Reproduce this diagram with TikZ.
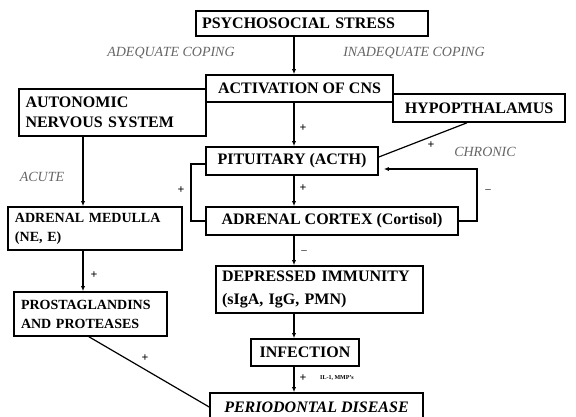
\documentclass[tikz,border=0pt]{standalone}
\usepackage{fontspec}
\setmainfont{Liberation Serif}
\usetikzlibrary{arrows.meta}
\begin{document}
\begin{tikzpicture}[x=1pt,y=-1pt,
  box/.style 2 args={draw,line width=1.6pt,inner sep=0pt,minimum width=#1,minimum height=#2,
     font=\fontsize{16}{20}\selectfont\bfseries},
  small/.style={font=\fontsize{14}{19}\selectfont\bfseries},
  lbl/.style={font=\fontsize{14}{16}\selectfont\itshape,text=black!60},
  sgn/.style={font=\fontsize{12}{12}\selectfont\bfseries,inner sep=0pt},
  neg/.style={font=\fontsize{11}{12}\selectfont,inner sep=0pt},
  arr/.style={line width=1.2pt,-{Latex[length=5pt,width=4pt]}},
  ln/.style={line width=1.2pt}]
\useasboundingbox (0,0) rectangle (576,416);
\fill[white] (0,0) rectangle (576,416);
\clip (0,0) rectangle (576,416);

% boxes
\node[box={232pt}{25pt},text width=220pt,align=left] (psy) at (312,23.5) {PSYCHOSOCIAL STRESS};
\node[box={187pt}{27pt}] (act) at (299.5,88.5) {ACTIVATION OF CNS};
\node[box={187pt}{47pt},text width=174pt,align=left] (ans) at (112.5,112.5) {AUTONOMIC\\NERVOUS SYSTEM};
\node[box={172pt}{28pt}] (hyp) at (479,108) {HYPOPTHALAMUS};
\node[box={172pt}{28pt}] (pit) at (292,161) {PITUITARY (ACTH)};
\node[box={252pt}{28pt}] (ctx) at (332,221) {ADRENAL CORTEX (Cortisol)};
\node[box={174pt}{43pt},small,text width=160pt,align=left] (med) at (95,228.5) {ADRENAL MEDULLA\\(NE, E)};
\node[box={153pt}{44pt},small,text width=139pt,align=left] (pro) at (90.5,314) {PROSTAGLANDINS\\AND PROTEASES};
\node[box={207pt}{47pt},font=\fontsize{16}{23}\selectfont\bfseries,text width=195pt,align=left] (dep) at (319.5,289.5) {DEPRESSED IMMUNITY\\(sIgA, IgG, PMN)};
\node[box={108pt}{27pt}] (inf) at (305,352.5) {INFECTION};
\node[box={213pt}{28pt},font=\fontsize{16}{20}\selectfont\bfseries\itshape] (per) at (316.5,407) {PERIODONTAL DISEASE};

% helper coordinates
\coordinate (c) at (294,0);
\coordinate (l) at (83,0);
\coordinate (h1) at (467,0);
\coordinate (fb) at (477,169);
\coordinate (lp) at (191,164);
\coordinate (d1) at (89,0);

% main column
\draw[arr] (psy.south -| c) -- (act.north -| c);
\draw[arr] (act.south -| c) -- (pit.north -| c);
\draw[arr] (pit.south -| c) -- (ctx.north -| c);
\draw[arr] (ctx.south -| c) -- (dep.north -| c);
\draw[arr] (dep.south -| c) -- (inf.north -| c);
\draw[arr] (inf.south -| c) -- (per.north -| c);

% left column
\draw[arr] (ans.south -| l) -- (med.north -| l);
\draw[arr] (med.south -| l) -- (pro.north -| l);
\draw[ln] (pro.south -| d1) -- (per.west);

% hypothalamus to pituitary
\draw[ln] (hyp.south -| h1) -- ([yshift=4pt]pit.east);

% feedback loops
\draw[arr,shorten >=5pt] (ctx.east) -| (fb) -- (fb -| pit.east);
\draw[ln] (pit.west |- lp) -- (lp) |- (ctx.west);

% labels
\node[lbl] (adq) at (171,53) {ADEQUATE COPING};
\node[lbl] (inadq) at (414,53) {INADEQUATE COPING};
\node[lbl] (acute) at (42,177) {ACUTE};
\node[lbl] (chronic) at (485,152) {CHRONIC};

\node[sgn] (s1) at (303,128) {+};
\node[sgn] (s2) at (431,145) {+};
\node[sgn] (s3) at (303,188) {+};
\node[sgn] (s4) at (181,190) {+};
\node[neg] (s5) at (488,191) {--};
\node[neg] (s6) at (304,252) {--};
\node[sgn] (s7) at (94,275) {+};
\node[sgn] (s8) at (145,358) {+};
\node[sgn] (s9) at (303,378) {+};
\node[font=\fontsize{6}{7}\selectfont\bfseries,anchor=west,inner sep=0pt] (il) at (320,378) {IL-1, MMP's};
\end{tikzpicture}
\end{document}
